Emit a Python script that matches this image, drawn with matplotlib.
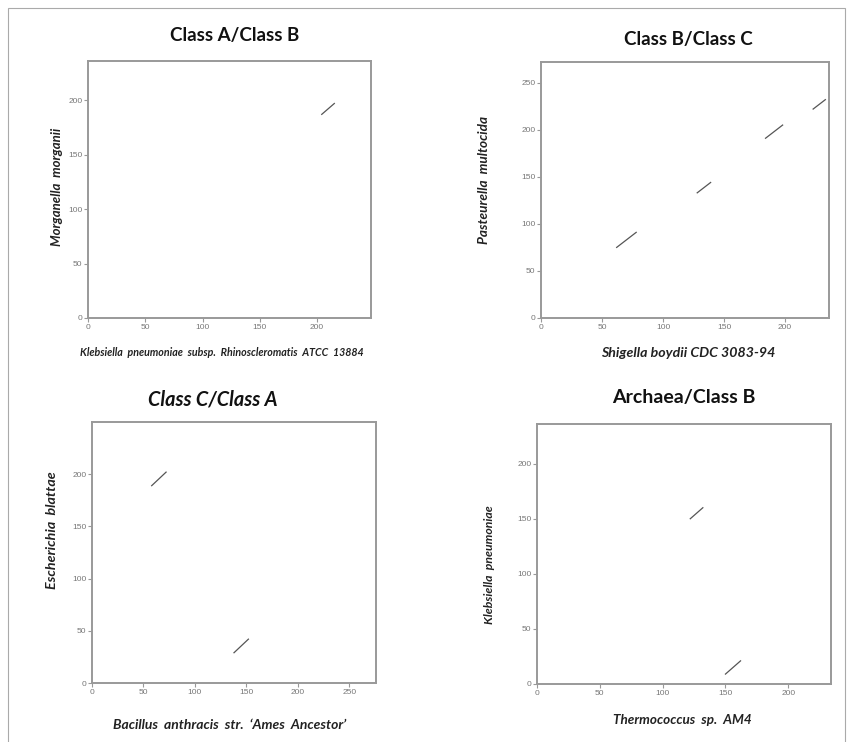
import matplotlib
matplotlib.use("Agg")
import matplotlib.pyplot as plt
from matplotlib.patches import Rectangle

W, H = 853, 742

titles = ["Class A/Class B", "Class B/Class C", "Class C/Class A", "Archaea/Class B"]
title_italic = [False, False, True, False]
x_labels = ["Klebsiella  pneumoniae  subsp.  Rhinoscleromatis  ATCC  13884",
            "Shigella boydii CDC 3083-94",
            "Bacillus  anthracis  str.  \u2018Ames  Ancestor\u2019",
            "Thermococcus  sp.  AM4"]
y_labels = ["Morganella  morganii", "Pasteurella  multocida",
            "Escherichia  blattae", "Klebsiella  pneumoniae"]

# dot-plot match segments: (x0, x1, y0, y1) per panel
segments_ab = [(204, 215, 187, 197)]
segments_bc = [(62, 78, 75, 91), (128, 139, 133, 144),
               (184, 198, 191, 205), (223, 233, 222, 232)]
segments_ca = [(58, 72, 189, 202), (138, 152, 29, 42)]
segments_archaea = [(122, 132, 150, 160), (150, 162, 9, 21)]
segments = [segments_ab, segments_bc, segments_ca, segments_archaea]

x_limits = [247, 236, 276, 234]
y_limits = [236, 272, 250, 236]
x_ticks = [[0, 50, 100, 150, 200], [0, 50, 100, 150, 200],
           [0, 50, 100, 150, 200, 250], [0, 50, 100, 150, 200]]
y_ticks = [[0, 50, 100, 150, 200], [0, 50, 100, 150, 200, 250],
           [0, 50, 100, 150, 200], [0, 50, 100, 150, 200]]

# axes boxes in pixels: left, right, top, bottom
boxes = [(88, 371, 61, 318), (541, 829, 62, 318),
         (92, 376, 422, 683), (537, 831, 424, 684)]
title_pos = [(235, 35), (688, 40), (213, 400), (684, 398)]
title_size = [13.5, 13.5, 14.3, 14]
xlabel_pos = [(222, 353), (688, 353), (230, 725), (682, 720)]
xlabel_size = [7.7, 10.2, 10, 9.7]
ylabel_pos = [(57, 187), (484, 180), (52, 530), (490, 565)]
ylabel_size = [9.5, 9.8, 10.3, 8.8]

fig = plt.figure(figsize=(W / 100, H / 100), dpi=100)

def px(x, y):
    return x / W, 1 - y / H

for i in range(4):
    l, r, t, b = boxes[i]
    ax = fig.add_axes([l / W, 1 - b / H, (r - l) / W, (b - t) / H])
    for x0, x1, y0, y1 in segments[i]:
        ax.plot([x0, x1], [y0, y1], color="#555555", lw=0.9)
    ax.set_xlim(0, x_limits[i])
    ax.set_ylim(0, y_limits[i])
    ax.set_xticks(x_ticks[i])
    ax.set_yticks(y_ticks[i])
    for s in ax.spines.values():
        s.set_color("#999999")
        s.set_linewidth(1.4)
    ax.tick_params(colors="#999999", labelcolor="#777777", length=3, width=0.8,
                   labelsize=6, pad=1)
    for lab in ax.get_xticklabels() + ax.get_yticklabels():
        lab.set_family("Liberation Sans")

    tx, ty = px(*title_pos[i])
    fig.text(tx, ty, titles[i], ha="center", va="center", family="Lato",
             fontsize=title_size[i], fontweight="bold",
             style="italic" if title_italic[i] else "normal", color="#111111")
    xx, xy = px(*xlabel_pos[i])
    fig.text(xx, xy, x_labels[i], ha="center", va="center", family="Lato",
             fontsize=xlabel_size[i], fontweight="bold", style="italic",
             color="#222222")
    yx, yy = px(*ylabel_pos[i])
    fig.text(yx, yy, y_labels[i], ha="center", va="center", family="Lato",
             fontsize=ylabel_size[i], fontweight="bold", style="italic",
             color="#222222", rotation=90)

# thin outer frame of the figure
fig.patches.append(Rectangle((8 / W, -0.01), (845 - 8) / W, 1 - 8 / H + 0.01,
                             transform=fig.transFigure, fill=False,
                             edgecolor="#aaaaaa", lw=0.8))

fig.savefig("out.png", dpi=100)
